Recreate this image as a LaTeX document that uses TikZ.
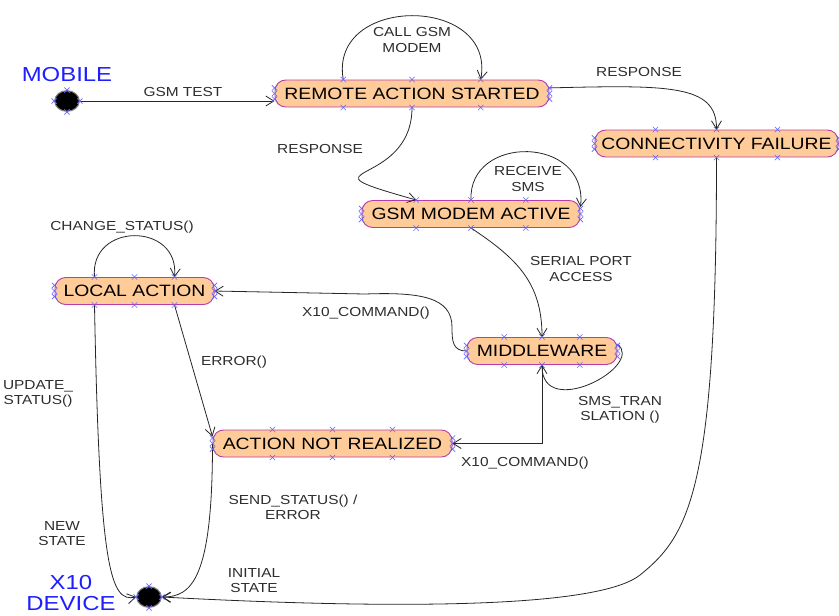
\documentclass[tikz,border=0pt]{standalone}
\usepackage{fontspec}
\setmainfont[FakeStretch=1.18]{Liberation Sans}
\usepackage{xcolor}
\usepackage{tikz}
\usetikzlibrary{arrows.meta}
\usetikzlibrary{calc}
\usetikzlibrary{shapes.geometric}

\definecolor{peach}{RGB}{255,204,153}
\definecolor{rim}{RGB}{185,60,170}
\definecolor{handle}{RGB}{100,100,255}
\definecolor{ink}{RGB}{45,45,45}
\definecolor{tagblue}{RGB}{30,30,255}

\tikzset{
  st/.style={rectangle, rounded corners=8pt, draw=rim, fill=peach, line width=0.7pt,
    minimum height=20.25pt, inner xsep=2pt, font=\fontsize{12.3}{14}\selectfont},
  blob/.style={ellipse, fill=black, draw=gray, line width=0.8pt,
    minimum width=18.5pt, minimum height=15.5pt, inner sep=0pt},
  lbl/.style={text=ink, align=center, font=\fontsize{9.8}{11.3}\selectfont, inner sep=0pt},
  ttl/.style={text=tagblue, align=center, font=\fontsize{15.2}{15.8}\selectfont, inner sep=0pt},
  tr/.style={->, draw=black!85, line width=0.6pt},
  hx/.style={handle, line width=0.45pt},
  >={Straight Barb[length=6pt,width=7.5pt]}
}

\newcommand{\hmark}[1]{\draw[hx] #1 ++(-2pt,-2pt) -- ++(4pt,4pt) ++(-4pt,0pt) -- ++(4pt,-4pt);}
\newcommand{\handles}[1]{%
  \foreach \t in {0.25,0.5,0.75}{%
    \hmark{($(#1.north west)!\t!(#1.north east)$)}
    \hmark{($(#1.south west)!\t!(#1.south east)$)}}
  \foreach \t in {0.3,0.5,0.7}{%
    \hmark{($(#1.north west)!\t!(#1.south west)$)}
    \hmark{($(#1.north east)!\t!(#1.south east)$)}}}

\begin{document}
\begin{tikzpicture}[x=0.75pt, y=-0.75pt]
\useasboundingbox (0,0) rectangle (839,615);

% states
\node[blob] (mob) at (67,101) {};
\node[st, minimum width=205.5pt] (rem) at (412,93.5) {REMOTE ACTION STARTED};
\node[st, minimum width=182.3pt] (con) at (716.5,143.5) {CONNECTIVITY FAILURE};
\node[st, minimum width=163.5pt] (gsm) at (471,214) {GSM MODEM ACTIVE};
\node[st, minimum width=119.3pt] (loc) at (134.5,291) {LOCAL ACTION};
\node[st, minimum width=112.5pt] (mid) at (542,351) {MIDDLEWARE};
\node[st, minimum width=179.3pt] (anr) at (332.5,443.5) {ACTION NOT REALIZED};
\node[blob] (dev) at (149,597) {};

\node[ttl] (tMob) at (67,75) {MOBILE};
\node[ttl] (tDev) at (71,593) {X10\\DEVICE};

% transitions
\draw[tr] (mob.east) -- (mob.east -| rem.west);
\draw[tr] ($(rem.north west)!0.25!(rem.north east)$) .. controls +(-15,-85) and +(15,-85) .. ($(rem.north west)!0.75!(rem.north east)$);
\draw[tr] ($(rem.north east)!0.3!(rem.south east)$) .. controls +(120,-3) and +(0,-45) .. (con.north);
\draw[tr] (rem.south) .. controls +(0,83) and +(-127,-36) .. ($(gsm.north west)!0.25!(gsm.north east)$);
\draw[tr] (gsm.north) .. controls +(-3,-66) and +(8,-72) .. ($(gsm.north east)!0.25!(gsm.south east)$);
\draw[tr] (gsm.south) .. controls +(45,30) and +(0,-55) .. (mid.north);
\draw[tr] (mid.west) .. controls +(-14,0) and +(0,14) .. (452,327) .. controls +(0,-30) and +(55,-2) .. (365,294) -- (loc.east);
\draw[tr] ($(mid.north east)!0.25!(mid.south east)$) .. controls +(28,22) and +(0,56) .. (mid.south);
\draw[tr] (mid.south) |- (anr.east);
\draw[tr] ($(loc.north west)!0.25!(loc.north east)$) .. controls +(-5,-55) and +(5,-55) .. ($(loc.north west)!0.75!(loc.north east)$);
\draw[tr] ($(loc.south west)!0.75!(loc.south east)$) -- ($(anr.west)!0.5!(anr.north west)$);
\draw[tr] ($(loc.south west)!0.25!(loc.south east)$) .. controls +(5,270) and +(-25,5) .. (dev.west);
\draw[tr] (anr.west) .. controls +(0,135) and +(30,0) .. (dev.east);
\draw[tr] (con.south) .. controls +(0,330) and +(50,-40) .. (640,575) .. controls +(-50,40) and +(150,8) .. (dev.east);

% labels
\node[lbl] (lTest) at (183,92) {GSM TEST};
\node[lbl] (lCall) at (412,40) {CALL GSM\\MODEM};
\node[lbl] (lResp1) at (639,72) {RESPONSE};
\node[lbl] (lResp2) at (320,149) {RESPONSE};
\node[lbl] (lSms) at (528,179) {RECEIVE\\SMS};
\node[lbl] (lPort) at (581,269) {SERIAL PORT\\ACCESS};
\node[lbl] (lCmd1) at (366,313) {X10\_COMMAND()};
\node[lbl] (lTrans) at (620,410) {SMS\_TRAN\\SLATION ()};
\node[lbl] (lCmd2) at (525,463) {X10\_COMMAND()};
\node[lbl] (lChange) at (122,227) {CHANGE\_STATUS()};
\node[lbl] (lErr) at (234,362) {ERROR()};
\node[lbl] (lUpd) at (38,394) {UPDATE\_\\STATUS()};
\node[lbl] (lNew) at (62,534) {NEW\\STATE};
\node[lbl] (lSend) at (293,507) {SEND\_STATUS() /\\ERROR};
\node[lbl] (lInit) at (254,581) {INITIAL\\STATE};

% handles
\handles{rem} \handles{con} \handles{gsm} \handles{loc} \handles{mid} \handles{anr}
\foreach \a in {north,south,east,west}{\hmark{(mob.\a)} \hmark{(dev.\a)}}
\end{tikzpicture}
\end{document}
